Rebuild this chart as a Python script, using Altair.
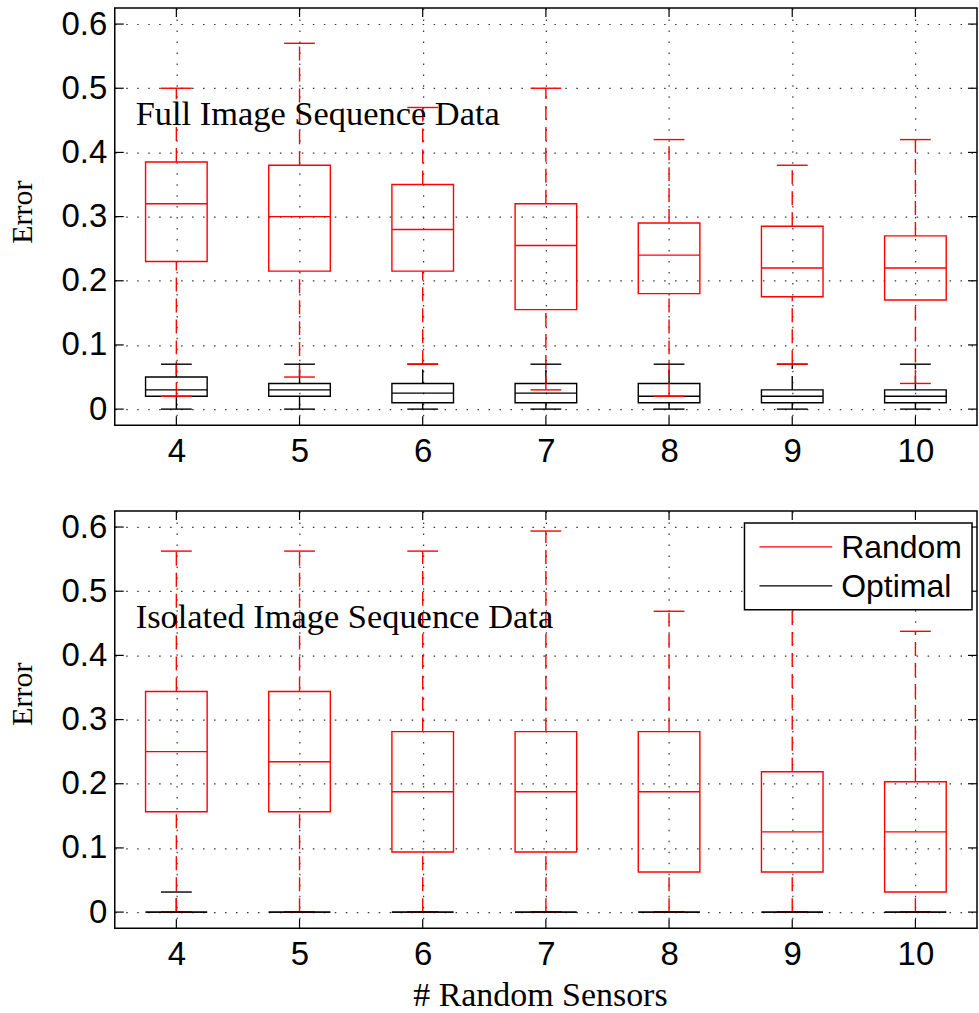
import altair as alt
import pandas as pd

sensors = [4, 5, 6, 7, 8, 9, 10]
y_ticks = [0, 0.1, 0.2, 0.3, 0.4, 0.5, 0.6]
series_names = ["Random", "Optimal"]
series_colors = ["#ff0000", "#000000"]

# Top panel: Full Image Sequence Data
full_rand_lo = [0.02, 0.05, 0.07, 0.03, 0.02, 0.07, 0.04]
full_rand_q1 = [0.23, 0.215, 0.215, 0.155, 0.18, 0.175, 0.17]
full_rand_med = [0.32, 0.30, 0.28, 0.255, 0.24, 0.22, 0.22]
full_rand_q3 = [0.385, 0.38, 0.35, 0.32, 0.29, 0.285, 0.27]
full_rand_hi = [0.50, 0.57, 0.47, 0.50, 0.42, 0.38, 0.42]

full_opt_lo = [0, 0, 0, 0, 0, 0, 0]
full_opt_q1 = [0.02, 0.02, 0.01, 0.01, 0.01, 0.01, 0.01]
full_opt_med = [0.03, 0.03, 0.025, 0.025, 0.02, 0.02, 0.02]
full_opt_q3 = [0.05, 0.04, 0.04, 0.04, 0.04, 0.03, 0.03]
full_opt_hi = [0.07, 0.07, 0.07, 0.07, 0.07, 0.07, 0.07]

# Bottom panel: Isolated Image Sequence Data
iso_rand_lo = [0, 0, 0, 0, 0, 0, 0]
iso_rand_q1 = [0.15625, 0.15625, 0.09375, 0.09375, 0.0625, 0.0625, 0.03125]
iso_rand_med = [0.25, 0.234375, 0.1875, 0.1875, 0.1875, 0.125, 0.125]
iso_rand_q3 = [0.34375, 0.34375, 0.28125, 0.28125, 0.28125, 0.21875, 0.203125]
iso_rand_hi = [0.5625, 0.5625, 0.5625, 0.59375, 0.46875, 0.5625, 0.4375]

iso_opt_lo = [0, 0, 0, 0, 0, 0, 0]
iso_opt_q1 = [0, 0, 0, 0, 0, 0, 0]
iso_opt_med = [0, 0, 0, 0, 0, 0, 0]
iso_opt_q3 = [0, 0, 0, 0, 0, 0, 0]
iso_opt_hi = [0.03125, 0, 0, 0, 0, 0, 0]

W = 864
H = 418
SERIF = "Liberation Serif"
SANS = "Liberation Sans"


def frame(series, lo, q1, med, q3, hi):
    return pd.DataFrame({"sensors": sensors, "series": series, "lo": lo, "q1": q1,
                         "med": med, "q3": q3, "hi": hi})


def panel(df, label, bottom, title_y):
    xscale = alt.Scale(domain=[3.5, 10.5], nice=False, zero=False)
    yscale = alt.Scale(domain=[-0.025, 0.625], nice=False, zero=False)
    color = alt.Color("series:N", scale=alt.Scale(domain=series_names, range=series_colors), legend=None)
    xaxis = alt.Axis(values=sensors, format="d", grid=True, ticks=False, domain=False,
                     labelPadding=10, labelFont=SANS, labelFontSize=33, labelColor="black",
                     gridDash=[1.5, 9.5], gridColor="#333333", gridWidth=1.2,
                     title="# Random Sensors" if bottom else "",
                     titleFont=SERIF, titleFontSize=34, titleFontWeight="normal", titleColor="black",
                     titleY=68, titleBaseline="middle", titleX=426)
    yaxis = alt.Axis(values=y_ticks, format="~g", grid=True, ticks=False, domain=False,
                     labelPadding=8, labelFont=SANS, labelFontSize=33, labelColor="black",
                     gridDash=[1.5, 9.5], gridColor="#333333", gridWidth=1.2,
                     title="Error", titleFont=SERIF, titleFontSize=30, titleFontWeight="normal",
                     titleColor="black", titleX=-92, titleY=title_y, titleBaseline="middle",
                     titleAngle=270)

    def X(f):
        return alt.X(f, scale=xscale, axis=xaxis)

    def Y(f):
        return alt.Y(f, scale=yscale, axis=yaxis)

    base = alt.Chart(df).transform_calculate(
        xl="datum.sensors - 0.25", xr="datum.sensors + 0.25",
        cl="datum.sensors - 0.125", cr="datum.sensors + 0.125")

    boxes = base.mark_rect(filled=False, strokeWidth=1.4).encode(
        x=X("xl:Q"), x2="xr:Q", y=Y("q1:Q"), y2="q3:Q", stroke=color)
    med = base.mark_rule(strokeWidth=1.4).encode(
        x=X("xl:Q"), x2="xr:Q", y=Y("med:Q"), color=color)
    wh_up = base.mark_rule(strokeWidth=1.4, strokeDash=[14, 7]).encode(
        x=X("sensors:Q"), y=Y("q3:Q"), y2="hi:Q", color=color)
    wh_lo = base.mark_rule(strokeWidth=1.4, strokeDash=[14, 7]).encode(
        x=X("sensors:Q"), y=Y("lo:Q"), y2="q1:Q", color=color)
    cap_hi = base.mark_rule(strokeWidth=1.4).encode(
        x=X("cl:Q"), x2="cr:Q", y=Y("hi:Q"), color=color)
    cap_lo = base.mark_rule(strokeWidth=1.4).encode(
        x=X("cl:Q"), x2="cr:Q", y=Y("lo:Q"), color=color)

    ydf = pd.DataFrame({"v": y_ticks})
    xdf = pd.DataFrame({"v": sensors})
    tick_l = alt.Chart(ydf).mark_rule(color="black", strokeWidth=1.2).encode(
        x=alt.value(0), x2=alt.value(9), y=Y("v:Q"))
    tick_r = alt.Chart(ydf).mark_rule(color="black", strokeWidth=1.2).encode(
        x=alt.value(W - 9), x2=alt.value(W), y=Y("v:Q"))
    tick_t = alt.Chart(xdf).mark_rule(color="black", strokeWidth=1.2).encode(
        x=X("v:Q"), y=alt.value(0), y2=alt.value(9))
    tick_b = alt.Chart(xdf).mark_rule(color="black", strokeWidth=1.2).encode(
        x=X("v:Q"), y=alt.value(H - 9), y2=alt.value(H))

    txt = alt.Chart(pd.DataFrame({"t": [label]})).mark_text(
        font=SERIF, fontSize=34.5, align="left", baseline="middle", color="black").encode(
        text="t:N", x=alt.value(21), y=alt.value(107))

    layers = [boxes, med, wh_up, wh_lo, cap_hi, cap_lo, tick_l, tick_r, tick_t, tick_b, txt]

    if bottom:
        leg_df = pd.DataFrame({"name": series_names, "color": series_colors})
        leg_box = alt.Chart(pd.DataFrame({"a": [0]})).mark_rect(
            fill="white", stroke="black", strokeWidth=1.5).encode(
            x=alt.value(631), x2=alt.value(859), y=alt.value(12), y2=alt.value(99))
        leg_r = alt.Chart(leg_df).transform_filter("datum.name == 'Random'").mark_rule(
            color="#ff0000", strokeWidth=1.2).encode(
            x=alt.value(646), x2=alt.value(719), y=alt.value(36))
        leg_o = alt.Chart(leg_df).transform_filter("datum.name == 'Optimal'").mark_rule(
            color="#000000", strokeWidth=1.2).encode(
            x=alt.value(646), x2=alt.value(719), y=alt.value(75))
        leg_tr = alt.Chart(leg_df).transform_filter("datum.name == 'Random'").mark_text(
            font=SANS, fontSize=32, align="left", baseline="middle", color="black").encode(
            text="name:N", x=alt.value(728), y=alt.value(37))
        leg_to = alt.Chart(leg_df).transform_filter("datum.name == 'Optimal'").mark_text(
            font=SANS, fontSize=32, align="left", baseline="middle", color="black").encode(
            text="name:N", x=alt.value(728), y=alt.value(76))
        layers += [leg_box, leg_r, leg_o, leg_tr, leg_to]

    return alt.layer(*layers).properties(width=W, height=H)


top_df = pd.concat([frame("Random", full_rand_lo, full_rand_q1, full_rand_med, full_rand_q3, full_rand_hi),
                    frame("Optimal", full_opt_lo, full_opt_q1, full_opt_med, full_opt_q3, full_opt_hi)],
                   ignore_index=True)
bot_df = pd.concat([frame("Random", iso_rand_lo, iso_rand_q1, iso_rand_med, iso_rand_q3, iso_rand_hi),
                    frame("Optimal", iso_opt_lo, iso_opt_q1, iso_opt_med, iso_opt_q3, iso_opt_hi)],
                   ignore_index=True)

top = panel(top_df, "Full Image Sequence Data", False, 204)
bot = panel(bot_df, "Isolated Image Sequence Data", True, 183)

chart = alt.vconcat(top, bot, spacing=40).properties(
    padding={"left": 7, "top": 5, "right": 0, "bottom": 0},
    background="white",
).configure_view(stroke="black", strokeWidth=1.5).configure_concat(spacing=40)

chart.save("out.html", embed_options={"renderer": "svg", "actions": False})
